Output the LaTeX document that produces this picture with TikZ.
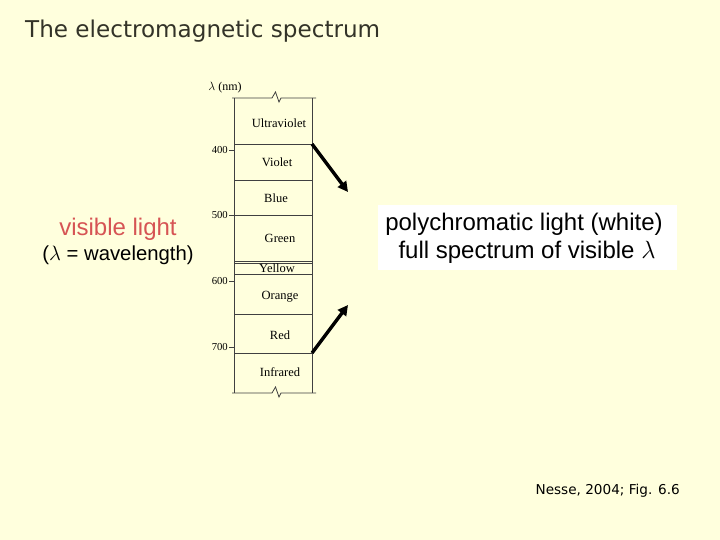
\documentclass[tikz,border=0pt]{standalone}
\usepackage{fontspec}
\setmainfont{Liberation Serif}
\newfontfamily\arialfont{Liberation Sans}
\newfontfamily\titlefont{DejaVu Sans}
\definecolor{paper}{RGB}{255, 255, 221}
\definecolor{titlegray}{RGB}{51, 51, 40}
\definecolor{lightred}{RGB}{214, 84, 84}
\usetikzlibrary{arrows.meta, positioning}
\tikzset{
	band/.style={font=\fontsize{12.5}{14}\selectfont, inner sep=0pt},
	ticklabel/.style={font=\fontsize{10.7}{12}\selectfont, anchor=east, inner sep=0pt},
	edge/.style={line width=0.8pt, draw=black!75},
	bigarrow/.style={-{Triangle[length=3.6mm, width=3.6mm]}, line width=3.4pt},
	plain/.style={font=\arialfont\fontsize{24}{28}\selectfont, inner sep=0pt},
}

\begin{document}
\begin{tikzpicture}[x=1pt, y=-1pt]
		\fill[paper] (0,0) rectangle (720,540);
		\useasboundingbox (0,0) rectangle (720,540);
		% title and source
		\node[anchor=west, text=titlegray, font=\titlefont\fontsize{23.1}{26}\selectfont, inner sep=0pt] (title) at (25,31) {The electromagnetic spectrum};
		\node[anchor=east, font=\titlefont\fontsize{13.6}{16}\selectfont, inner sep=0pt] (source) at (680,491) {Nesse, 2004; Fig. 6.6};
		% spectrum column
		\draw[edge] (232,98) -- (272,98) -- (275.5,92) -- (279,102) -- (281,98) -- (316,98);
		\draw[edge] (232,393) -- (272,393) -- (275.5,387) -- (279,397) -- (281,393) -- (316,393);
		\draw[edge] (234,98) -- (234,393);
		\draw[edge] (312,98) -- (312,393);
		\foreach \y in {144,180,215,261,274,314,353}
			\draw[edge] (234,\y) -- (312,\y);
		\draw[edge] (234,263.5) -- (312,263.5);
		\node[band] (uv) at (279,123) {Ultraviolet};
		\node[band] (violet) at (277,162) {Violet};
		\node[band] (blue) at (276,198) {Blue};
		\node[band] (green) at (280,238) {Green};
		\node[band] (yellow) at (277,268) {Yellow};
		\node[band] (orange) at (280,297) {Orange};
		\node[band] (red) at (280,335) {Red};
		\node[band] (ir) at (280,372) {Infrared};
		\node[font=\fontsize{12}{14}\selectfont, inner sep=0pt] (unit) at (225,88) {$\lambda$ (nm)};
		\foreach \v/\y in {400/150,500/215,600/281,700/347} {
			\node[ticklabel] (t\v) at (228,\y) {\v};
			\draw[edge] (229,\y) -- (t\v.east -| 234,\y);
		}
		% arrows to the white box
		\coordinate (vtop) at (312,144);
		\coordinate (vbot) at (312,353);
		\coordinate (atop) at (348,192);
		\coordinate (abot) at (348,305);
		\draw[bigarrow] (vtop) -- (atop);
		\draw[bigarrow] (vbot) -- (abot);
		% labels
		\node[fill=white, minimum width=299pt, minimum height=65pt, inner sep=0pt] (box) at (527.5,237.5) {};
		\node[plain] (poly) at (524,224) {polychromatic light (white)};
		\node[plain] (full) at (527,252) {full spectrum of visible $\lambda$};
		\node[plain, text=lightred] (vis) at (118,229) {visible light};
		\node[plain, font=\arialfont\fontsize{20.3}{24}\selectfont] (wave) at (118,255) {($\lambda$ = wavelength)};
	\end{tikzpicture}
\end{document}
